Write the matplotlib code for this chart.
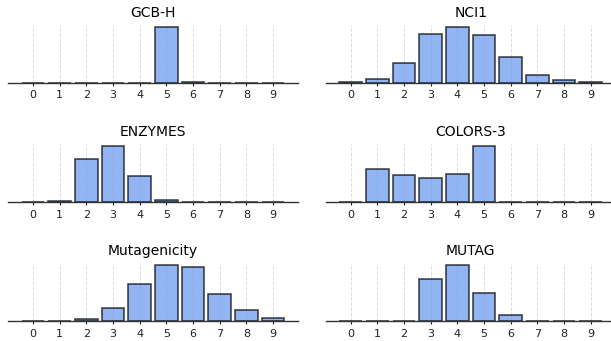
import matplotlib
matplotlib.use("Agg")
import matplotlib.pyplot as plt
import numpy as np

bins = list(range(10))
tick_labels = [str(b) for b in bins]

titles = ["GCB-H", "NCI1", "ENZYMES", "COLORS-3", "Mutagenicity", "MUTAG"]

gcb_h = [0.0, 0.0, 0.0, 0.0, 0.0, 1.0, 0.012, 0.0, 0.0, 0.0]
nci1 = [0.004, 0.06, 0.36, 0.87, 1.0, 0.845, 0.46, 0.13, 0.045, 0.01]
enzymes = [0.0, 0.012, 0.76, 1.0, 0.465, 0.04, 0.0, 0.0, 0.0, 0.0]
colors3 = [0.0, 0.59, 0.49, 0.43, 0.505, 1.0, 0.004, 0.0, 0.0, 0.0]
mutagenicity = [0.004, 0.004, 0.036, 0.24, 0.655, 1.0, 0.96, 0.49, 0.2, 0.06]
mutag = [0.0, 0.0, 0.0, 0.745, 1.0, 0.5, 0.11, 0.0, 0.0, 0.0]

series = [gcb_h, nci1, enzymes, colors3, mutagenicity, mutag]

W, H = 611, 341
fig = plt.figure(figsize=(W / 100, H / 100), dpi=100)

col_left = [8, 325.7]
row_top = [25, 144.3, 263.3]
ax_w = 290
ax_h = 57.7

for i, (title, vals) in enumerate(zip(titles, series)):
    r, c = divmod(i, 2)
    left = col_left[c] / W
    bottom = 1 - (row_top[r] + ax_h) / H
    ax = fig.add_axes([left, bottom, ax_w / W, ax_h / H])
    ax.bar(bins, vals, width=0.85, color="cornflowerblue", alpha=0.7,
           edgecolor="black", linewidth=1.2, zorder=3)
    ax.set_xlim(-0.935, 9.935)
    ax.set_ylim(0, max(vals) * 1.03)
    ax.set_xticks(bins)
    ax.set_xticklabels(tick_labels, fontsize=8)
    ax.set_yticks([])
    for s in ["top", "right", "left"]:
        ax.spines[s].set_visible(False)
    ax.spines["bottom"].set_color("#333333")
    ax.spines["bottom"].set_linewidth(1.0)
    ax.tick_params(axis="x", length=2.5, width=0.8, pad=3, colors="#222222")
    ax.xaxis.grid(True, linestyle="--", color="#dddddd", linewidth=0.7, zorder=0)
    ax.set_axisbelow(True)
    ax.set_title(title, fontsize=10, pad=6)

fig.savefig("out.png", dpi=100)
